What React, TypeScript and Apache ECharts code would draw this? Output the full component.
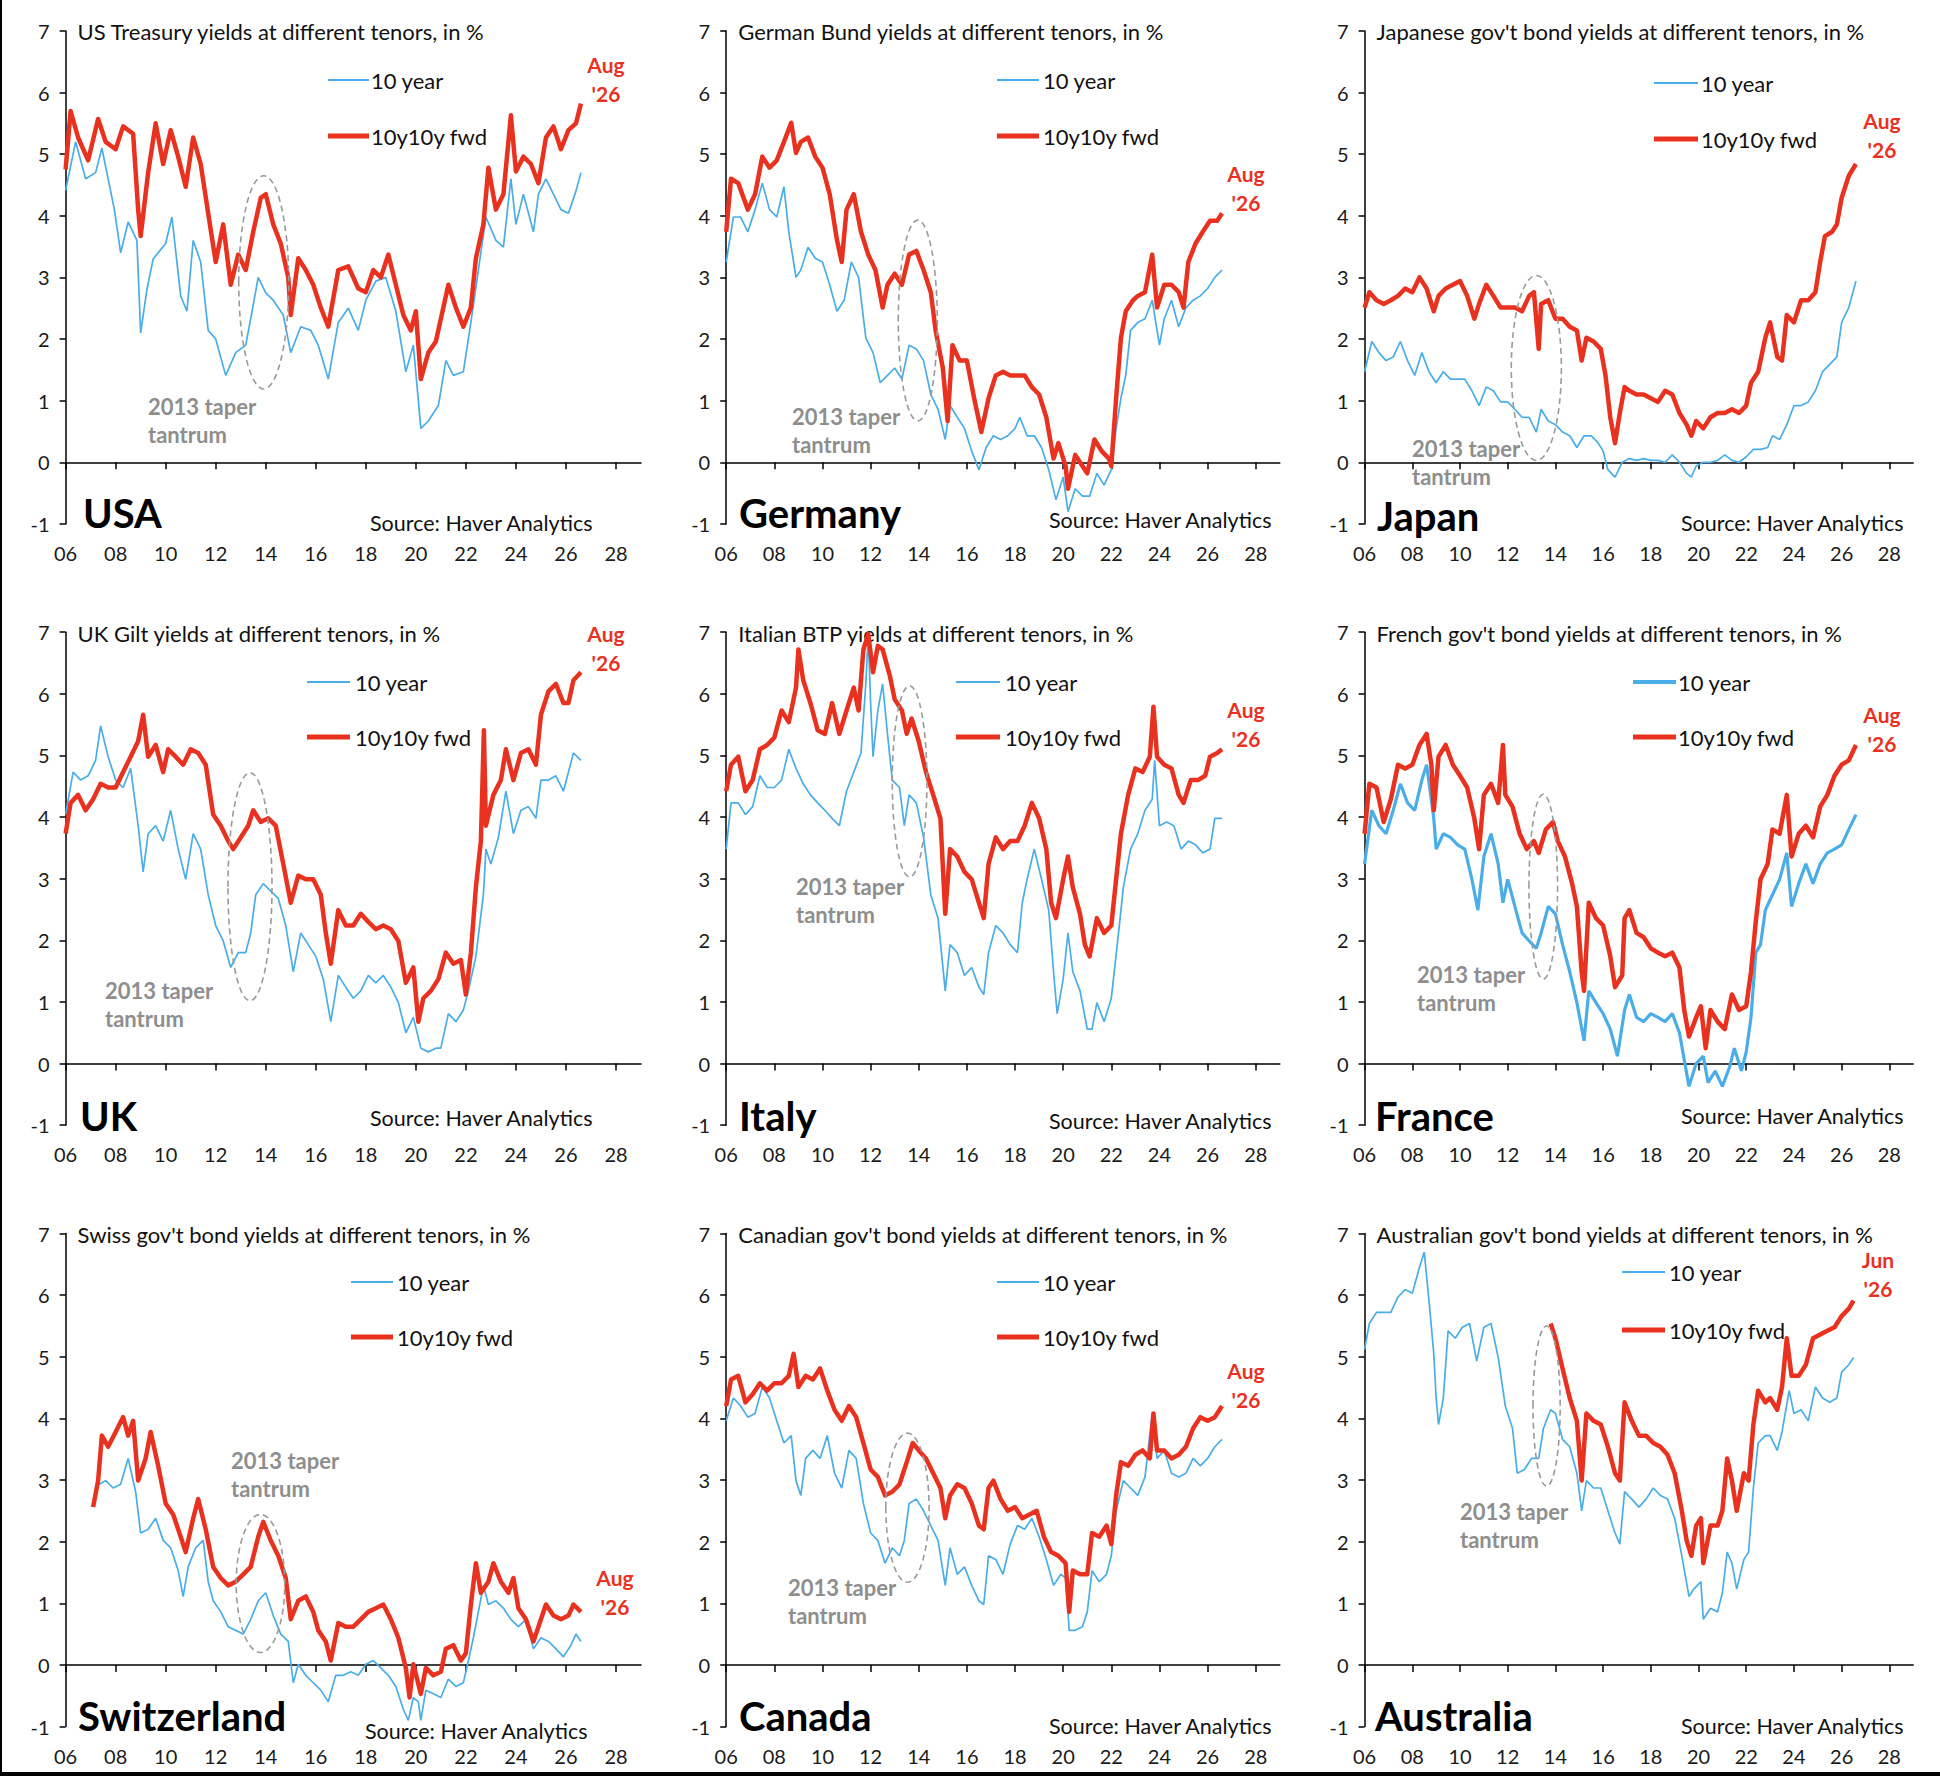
import React, { useEffect, useRef } from "react";
import * as echarts from "echarts";

// ---------------- DATA (year, % yield) ----------------
const X_TICKS = [2006, 2008, 2010, 2012, 2014, 2016, 2018, 2020, 2022, 2024, 2026, 2028];

const usa10y = [[2006.0,4.41],[2006.4,5.2],[2006.8,4.6],[2007.2,4.7],[2007.45,5.1],[2007.7,4.6],[2007.95,4.1],[2008.2,3.4],[2008.5,3.9],[2008.85,3.6],[2009.0,2.1],[2009.25,2.8],[2009.5,3.3],[2010.0,3.55],[2010.25,3.98],[2010.6,2.7],[2010.85,2.45],[2011.1,3.6],[2011.4,3.25],[2011.7,2.14],[2012.0,2.0],[2012.4,1.41],[2012.8,1.78],[2013.2,1.9],[2013.4,2.33],[2013.7,3.0],[2014.0,2.75],[2014.3,2.63],[2014.7,2.39],[2015.0,1.78],[2015.4,2.2],[2015.8,2.14],[2016.1,1.9],[2016.5,1.35],[2016.9,2.27],[2017.3,2.5],[2017.7,2.14],[2018.0,2.63],[2018.4,2.94],[2018.8,3.0],[2019.2,2.45],[2019.6,1.47],[2019.9,1.9],[2020.2,0.55],[2020.5,0.67],[2020.9,0.92],[2021.2,1.65],[2021.5,1.41],[2021.9,1.47],[2022.2,2.27],[2022.5,3.12],[2022.8,3.98],[2023.2,3.6],[2023.5,3.49],[2023.8,4.6],[2024.0,3.86],[2024.3,4.35],[2024.7,3.74],[2024.9,4.35],[2025.2,4.6],[2025.5,4.35],[2025.8,4.1],[2026.1,4.04],[2026.4,4.4],[2026.6,4.7]];
const usaFwd = [[2006.0,4.75],[2006.2,5.7],[2006.5,5.27],[2006.9,4.9],[2007.3,5.57],[2007.6,5.2],[2008.0,5.08],[2008.3,5.45],[2008.7,5.33],[2008.9,4.1],[2009.0,3.67],[2009.3,4.7],[2009.6,5.5],[2009.9,4.84],[2010.2,5.39],[2010.5,4.96],[2010.8,4.47],[2011.1,5.27],[2011.4,4.84],[2011.7,4.04],[2012.0,3.25],[2012.3,3.86],[2012.6,2.88],[2012.9,3.37],[2013.2,3.12],[2013.5,3.74],[2013.8,4.29],[2014.0,4.35],[2014.3,3.86],[2014.6,3.55],[2014.9,3.0],[2015.0,2.39],[2015.3,3.31],[2015.6,3.12],[2015.9,2.88],[2016.2,2.51],[2016.5,2.2],[2016.9,3.12],[2017.3,3.18],[2017.7,2.82],[2018.0,2.76],[2018.3,3.12],[2018.6,3.0],[2018.9,3.37],[2019.2,2.88],[2019.5,2.39],[2019.8,2.14],[2020.0,2.45],[2020.2,1.35],[2020.5,1.78],[2020.8,1.96],[2021.1,2.51],[2021.3,2.88],[2021.6,2.51],[2021.9,2.2],[2022.2,2.51],[2022.4,3.31],[2022.7,3.86],[2022.9,4.78],[2023.2,4.1],[2023.5,4.35],[2023.8,5.63],[2024.0,4.72],[2024.3,4.96],[2024.6,4.84],[2024.9,4.53],[2025.2,5.27],[2025.5,5.45],[2025.8,5.08],[2026.1,5.39],[2026.4,5.5],[2026.6,5.82]];

const deu10y = [[2006.0,3.25],[2006.3,3.98],[2006.6,3.98],[2006.9,3.74],[2007.2,4.1],[2007.5,4.53],[2007.8,4.1],[2008.1,3.98],[2008.4,4.47],[2008.6,3.74],[2008.9,3.0],[2009.1,3.12],[2009.4,3.49],[2009.7,3.31],[2010.0,3.25],[2010.3,2.88],[2010.6,2.45],[2010.9,2.63],[2011.2,3.25],[2011.5,3.0],[2011.8,2.02],[2012.1,1.78],[2012.4,1.29],[2012.7,1.41],[2013.0,1.53],[2013.3,1.35],[2013.6,1.9],[2013.9,1.84],[2014.2,1.65],[2014.5,1.1],[2014.8,0.86],[2015.1,0.37],[2015.3,0.92],[2015.6,0.73],[2015.9,0.55],[2016.2,0.18],[2016.5,-0.12],[2016.8,0.24],[2017.1,0.43],[2017.4,0.37],[2017.7,0.43],[2018.0,0.55],[2018.2,0.73],[2018.5,0.43],[2018.8,0.43],[2019.1,0.24],[2019.4,-0.12],[2019.7,-0.61],[2020.0,-0.24],[2020.2,-0.8],[2020.5,-0.43],[2020.8,-0.55],[2021.1,-0.55],[2021.4,-0.18],[2021.7,-0.37],[2022.0,-0.12],[2022.2,0.55],[2022.4,1.04],[2022.6,1.41],[2022.8,2.14],[2023.1,2.27],[2023.4,2.33],[2023.7,2.63],[2023.9,2.14],[2024.0,1.9],[2024.2,2.33],[2024.5,2.63],[2024.8,2.2],[2025.1,2.51],[2025.4,2.63],[2025.7,2.7],[2026.0,2.82],[2026.3,3.0],[2026.6,3.12]];
const deuFwd = [[2006.0,3.74],[2006.2,4.6],[2006.5,4.53],[2006.9,4.1],[2007.2,4.35],[2007.5,4.96],[2007.8,4.78],[2008.1,4.9],[2008.4,5.2],[2008.7,5.51],[2008.9,5.02],[2009.1,5.2],[2009.4,5.27],[2009.7,4.96],[2010.0,4.78],[2010.3,4.35],[2010.6,3.61],[2010.8,3.25],[2011.0,4.1],[2011.3,4.35],[2011.6,3.74],[2011.9,3.37],[2012.2,3.12],[2012.5,2.51],[2012.7,2.88],[2013.0,3.06],[2013.3,2.88],[2013.6,3.37],[2013.9,3.43],[2014.2,3.12],[2014.5,2.76],[2014.7,2.14],[2015.0,1.53],[2015.2,0.67],[2015.4,1.9],[2015.7,1.65],[2016.0,1.65],[2016.3,1.04],[2016.6,0.49],[2016.9,1.04],[2017.2,1.41],[2017.5,1.47],[2017.8,1.41],[2018.1,1.41],[2018.4,1.41],[2018.7,1.22],[2019.0,1.1],[2019.3,0.73],[2019.6,0.06],[2019.8,0.31],[2020.1,-0.06],[2020.2,-0.43],[2020.5,0.12],[2020.8,-0.06],[2021.0,-0.18],[2021.3,0.37],[2021.6,0.18],[2021.9,0.06],[2022.0,-0.06],[2022.2,1.04],[2022.4,2.02],[2022.6,2.45],[2022.9,2.63],[2023.1,2.7],[2023.4,2.76],[2023.7,3.37],[2023.9,2.51],[2024.2,2.88],[2024.5,2.88],[2024.8,2.76],[2025.0,2.51],[2025.2,3.25],[2025.5,3.55],[2025.8,3.74],[2026.1,3.92],[2026.4,3.92],[2026.6,4.04]];

const jpn10y = [[2006.0,1.47],[2006.3,1.96],[2006.6,1.78],[2006.9,1.65],[2007.2,1.71],[2007.5,1.96],[2007.8,1.65],[2008.1,1.41],[2008.4,1.78],[2008.7,1.47],[2009.0,1.29],[2009.3,1.47],[2009.6,1.35],[2009.9,1.35],[2010.2,1.35],[2010.5,1.16],[2010.8,0.92],[2011.1,1.22],[2011.4,1.16],[2011.7,0.98],[2012.0,0.98],[2012.3,0.86],[2012.6,0.73],[2012.9,0.73],[2013.2,0.49],[2013.4,0.86],[2013.7,0.67],[2014.0,0.61],[2014.3,0.49],[2014.6,0.43],[2014.9,0.24],[2015.2,0.43],[2015.5,0.43],[2015.8,0.31],[2016.0,0.18],[2016.2,-0.12],[2016.5,-0.24],[2016.8,0.0],[2017.1,0.06],[2017.4,0.03],[2017.7,0.06],[2018.0,0.03],[2018.3,0.03],[2018.6,0.0],[2018.9,0.12],[2019.2,0.0],[2019.5,-0.18],[2019.7,-0.24],[2019.9,-0.06],[2020.2,0.0],[2020.5,0.0],[2020.8,0.03],[2021.1,0.12],[2021.4,0.03],[2021.7,0.0],[2022.0,0.09],[2022.3,0.21],[2022.6,0.21],[2022.9,0.24],[2023.1,0.43],[2023.4,0.37],[2023.7,0.61],[2024.0,0.92],[2024.3,0.92],[2024.6,0.98],[2024.9,1.16],[2025.2,1.47],[2025.5,1.59],[2025.8,1.71],[2026.0,2.27],[2026.3,2.51],[2026.6,2.94]];
const jpnFwd = [[2006.0,2.51],[2006.2,2.76],[2006.5,2.63],[2006.8,2.57],[2007.1,2.63],[2007.4,2.7],[2007.7,2.82],[2008.0,2.76],[2008.3,3.0],[2008.6,2.82],[2008.9,2.45],[2009.1,2.7],[2009.4,2.82],[2009.7,2.88],[2010.0,2.94],[2010.3,2.7],[2010.6,2.33],[2010.8,2.57],[2011.1,2.88],[2011.4,2.7],[2011.7,2.51],[2012.0,2.51],[2012.3,2.51],[2012.6,2.45],[2012.9,2.7],[2013.1,2.76],[2013.3,1.84],[2013.4,2.57],[2013.7,2.63],[2014.0,2.33],[2014.3,2.33],[2014.6,2.2],[2014.9,2.14],[2015.1,1.65],[2015.3,2.02],[2015.6,1.96],[2015.9,1.84],[2016.1,1.41],[2016.3,0.73],[2016.5,0.31],[2016.7,0.8],[2016.9,1.22],[2017.1,1.16],[2017.4,1.1],[2017.7,1.1],[2018.0,1.04],[2018.3,0.98],[2018.6,1.16],[2018.9,1.1],[2019.2,0.8],[2019.5,0.61],[2019.7,0.43],[2019.9,0.67],[2020.2,0.55],[2020.5,0.73],[2020.8,0.8],[2021.1,0.8],[2021.4,0.86],[2021.7,0.8],[2022.0,0.92],[2022.2,1.29],[2022.5,1.47],[2022.8,2.02],[2023.0,2.27],[2023.3,1.71],[2023.5,1.65],[2023.7,2.39],[2024.0,2.27],[2024.3,2.63],[2024.6,2.63],[2024.9,2.76],[2025.1,3.25],[2025.3,3.67],[2025.6,3.74],[2025.8,3.86],[2026.0,4.29],[2026.3,4.65],[2026.6,4.84]];

const gbr10y = [[2006.0,4.04],[2006.3,4.73],[2006.6,4.6],[2006.9,4.67],[2007.2,4.92],[2007.4,5.48],[2007.7,4.98],[2008.0,4.6],[2008.3,4.48],[2008.6,4.79],[2008.9,3.86],[2009.1,3.11],[2009.3,3.73],[2009.6,3.86],[2009.9,3.61],[2010.2,4.11],[2010.5,3.48],[2010.8,2.99],[2011.1,3.73],[2011.4,3.48],[2011.7,2.74],[2012.0,2.24],[2012.3,1.99],[2012.6,1.56],[2012.9,1.8],[2013.2,1.8],[2013.4,2.12],[2013.6,2.74],[2013.9,2.92],[2014.2,2.8],[2014.5,2.68],[2014.8,2.24],[2015.1,1.49],[2015.4,2.12],[2015.7,1.93],[2016.0,1.74],[2016.3,1.37],[2016.6,0.68],[2016.9,1.43],[2017.2,1.24],[2017.5,1.06],[2017.8,1.18],[2018.1,1.43],[2018.4,1.31],[2018.7,1.43],[2019.0,1.24],[2019.3,0.99],[2019.6,0.5],[2019.9,0.75],[2020.2,0.25],[2020.5,0.19],[2020.8,0.25],[2021.0,0.25],[2021.3,0.81],[2021.6,0.68],[2021.9,0.87],[2022.1,1.18],[2022.4,1.74],[2022.7,2.74],[2022.8,3.48],[2023.0,3.24],[2023.3,3.67],[2023.6,4.42],[2023.9,3.73],[2024.2,4.11],[2024.5,4.17],[2024.8,3.98],[2025.0,4.6],[2025.3,4.6],[2025.6,4.67],[2025.9,4.42],[2026.1,4.73],[2026.3,5.04],[2026.6,4.92]];
const gbrFwd = [[2006.0,3.73],[2006.2,4.23],[2006.5,4.36],[2006.8,4.11],[2007.1,4.29],[2007.4,4.54],[2007.7,4.48],[2008.0,4.48],[2008.3,4.73],[2008.6,4.98],[2008.9,5.23],[2009.1,5.66],[2009.3,4.98],[2009.6,5.17],[2009.9,4.73],[2010.1,5.1],[2010.4,4.98],[2010.7,4.85],[2011.0,5.1],[2011.3,5.04],[2011.6,4.85],[2011.9,4.04],[2012.2,3.86],[2012.5,3.61],[2012.7,3.48],[2013.0,3.67],[2013.3,3.86],[2013.5,4.11],[2013.8,3.92],[2014.1,3.98],[2014.4,3.86],[2014.7,3.24],[2015.0,2.61],[2015.3,3.05],[2015.6,2.99],[2015.9,2.99],[2016.2,2.74],[2016.4,2.12],[2016.6,1.62],[2016.9,2.49],[2017.2,2.24],[2017.5,2.24],[2017.8,2.43],[2018.1,2.3],[2018.4,2.18],[2018.7,2.24],[2019.0,2.18],[2019.3,1.99],[2019.6,1.31],[2019.9,1.56],[2020.1,0.68],[2020.3,1.06],[2020.6,1.18],[2020.9,1.37],[2021.2,1.8],[2021.5,1.62],[2021.8,1.68],[2022.0,1.12],[2022.2,1.8],[2022.4,2.86],[2022.6,3.61],[2022.72,5.41],[2022.8,3.86],[2023.1,4.36],[2023.4,4.6],[2023.6,5.1],[2023.9,4.6],[2024.2,5.04],[2024.5,5.1],[2024.8,4.85],[2025.0,5.66],[2025.3,6.04],[2025.6,6.16],[2025.9,5.85],[2026.1,5.85],[2026.3,6.22],[2026.6,6.35]];

const ita10y = [[2006.0,3.48],[2006.2,4.23],[2006.5,4.23],[2006.8,4.04],[2007.1,4.17],[2007.4,4.67],[2007.7,4.48],[2008.0,4.48],[2008.3,4.6],[2008.6,5.1],[2008.9,4.79],[2009.2,4.54],[2009.5,4.36],[2009.8,4.23],[2010.1,4.11],[2010.4,3.98],[2010.7,3.86],[2011.0,4.42],[2011.3,4.73],[2011.6,5.04],[2011.8,6.16],[2011.9,6.97],[2012.0,5.85],[2012.1,4.98],[2012.3,5.73],[2012.5,6.16],[2012.7,5.35],[2012.9,4.6],[2013.2,4.48],[2013.4,3.86],[2013.6,4.36],[2013.9,4.23],[2014.2,3.67],[2014.5,2.74],[2014.8,2.36],[2015.1,1.18],[2015.3,1.93],[2015.6,1.8],[2015.9,1.43],[2016.2,1.56],[2016.5,1.24],[2016.7,1.12],[2016.9,1.8],[2017.2,2.24],[2017.5,2.12],[2017.8,1.93],[2018.1,1.8],[2018.3,2.61],[2018.5,2.99],[2018.8,3.48],[2019.1,2.99],[2019.4,2.49],[2019.6,1.49],[2019.75,0.81],[2020.0,1.37],[2020.2,2.12],[2020.4,1.49],[2020.7,1.18],[2021.0,0.56],[2021.2,0.56],[2021.4,0.99],[2021.7,0.68],[2022.0,1.06],[2022.3,2.12],[2022.5,2.86],[2022.8,3.48],[2023.1,3.73],[2023.4,4.11],[2023.7,4.29],[2023.8,4.92],[2024.0,3.86],[2024.3,3.92],[2024.6,3.86],[2024.9,3.48],[2025.2,3.61],[2025.5,3.55],[2025.8,3.42],[2026.1,3.48],[2026.3,3.98],[2026.6,3.98]];
const itaFwd = [[2006.0,4.42],[2006.2,4.85],[2006.5,4.98],[2006.8,4.42],[2007.1,4.6],[2007.4,5.1],[2007.7,5.17],[2008.0,5.29],[2008.3,5.73],[2008.6,5.54],[2008.9,6.1],[2009.0,6.72],[2009.2,6.22],[2009.5,5.85],[2009.8,5.41],[2010.1,5.35],[2010.4,5.85],[2010.7,5.35],[2011.0,5.73],[2011.3,6.1],[2011.5,5.73],[2011.7,6.72],[2011.9,6.97],[2012.1,6.35],[2012.3,6.78],[2012.5,6.72],[2012.8,6.29],[2013.0,5.91],[2013.3,5.73],[2013.5,5.35],[2013.7,5.6],[2014.0,5.23],[2014.3,4.73],[2014.6,4.36],[2014.9,3.98],[2015.1,2.43],[2015.3,3.48],[2015.6,3.36],[2015.9,3.11],[2016.2,2.99],[2016.5,2.61],[2016.7,2.36],[2016.9,3.24],[2017.2,3.67],[2017.5,3.48],[2017.8,3.61],[2018.1,3.61],[2018.4,3.86],[2018.7,4.23],[2019.0,3.98],[2019.3,3.48],[2019.5,2.61],[2019.7,2.36],[2020.0,2.99],[2020.2,3.36],[2020.4,2.86],[2020.7,2.43],[2020.9,1.93],[2021.1,1.74],[2021.4,2.36],[2021.7,2.12],[2022.0,2.24],[2022.2,2.99],[2022.4,3.73],[2022.7,4.36],[2023.0,4.79],[2023.3,4.73],[2023.6,4.98],[2023.75,5.79],[2023.9,4.98],[2024.2,4.85],[2024.5,4.79],[2024.8,4.36],[2025.0,4.23],[2025.3,4.6],[2025.6,4.6],[2025.9,4.67],[2026.1,4.98],[2026.4,5.04],[2026.6,5.1]];

const fra10y = [[2006.0,3.24],[2006.3,4.11],[2006.6,3.86],[2006.9,3.73],[2007.2,4.11],[2007.5,4.54],[2007.8,4.23],[2008.1,4.11],[2008.4,4.6],[2008.6,4.85],[2008.9,3.98],[2009.0,3.48],[2009.3,3.73],[2009.6,3.67],[2009.9,3.55],[2010.2,3.48],[2010.5,2.99],[2010.75,2.49],[2011.0,3.36],[2011.3,3.73],[2011.6,3.24],[2011.8,2.61],[2012.0,2.99],[2012.3,2.55],[2012.6,2.12],[2012.9,1.99],[2013.2,1.87],[2013.4,2.12],[2013.7,2.55],[2014.0,2.43],[2014.3,1.93],[2014.6,1.49],[2014.9,0.99],[2015.2,0.37],[2015.4,1.18],[2015.7,0.99],[2016.0,0.81],[2016.3,0.56],[2016.6,0.12],[2016.9,0.87],[2017.1,1.12],[2017.4,0.75],[2017.7,0.68],[2018.0,0.81],[2018.3,0.75],[2018.6,0.68],[2018.9,0.81],[2019.2,0.5],[2019.4,0.06],[2019.6,-0.37],[2019.9,0.0],[2020.2,0.12],[2020.4,-0.31],[2020.7,-0.12],[2021.0,-0.37],[2021.3,-0.06],[2021.5,0.25],[2021.8,-0.12],[2022.0,0.19],[2022.2,0.75],[2022.4,1.8],[2022.6,1.93],[2022.8,2.49],[2023.1,2.74],[2023.4,2.99],[2023.7,3.42],[2023.9,2.55],[2024.2,2.92],[2024.5,3.24],[2024.8,2.92],[2025.1,3.24],[2025.4,3.42],[2025.7,3.48],[2026.0,3.55],[2026.3,3.8],[2026.6,4.04]];
const fraFwd = [[2006.0,3.73],[2006.2,4.54],[2006.5,4.48],[2006.8,3.92],[2007.1,4.29],[2007.4,4.85],[2007.7,4.79],[2008.0,4.85],[2008.3,5.17],[2008.6,5.35],[2008.8,4.85],[2008.9,4.11],[2009.1,4.98],[2009.4,5.17],[2009.7,4.85],[2010.0,4.67],[2010.3,4.48],[2010.6,3.98],[2010.8,3.48],[2011.0,4.36],[2011.3,4.54],[2011.6,4.23],[2011.8,5.17],[2011.9,4.36],[2012.2,4.17],[2012.5,3.73],[2012.8,3.48],[2013.1,3.61],[2013.3,3.42],[2013.6,3.8],[2013.9,3.92],[2014.1,3.61],[2014.4,3.36],[2014.7,2.92],[2014.9,2.55],[2015.1,1.49],[2015.2,1.18],[2015.4,2.61],[2015.7,2.36],[2016.0,2.24],[2016.3,1.74],[2016.5,1.24],[2016.8,1.43],[2016.9,2.36],[2017.1,2.49],[2017.4,2.12],[2017.7,2.05],[2018.0,1.87],[2018.3,1.8],[2018.6,1.74],[2018.9,1.8],[2019.2,1.56],[2019.4,0.87],[2019.6,0.44],[2019.9,0.75],[2020.1,0.93],[2020.3,0.25],[2020.5,0.87],[2020.8,0.68],[2021.1,0.56],[2021.4,1.12],[2021.7,0.87],[2022.0,0.93],[2022.2,1.49],[2022.4,2.3],[2022.6,2.99],[2022.9,3.24],[2023.1,3.8],[2023.4,3.73],[2023.7,4.36],[2023.9,3.36],[2024.2,3.73],[2024.5,3.86],[2024.8,3.67],[2025.1,4.17],[2025.4,4.36],[2025.7,4.67],[2026.0,4.85],[2026.3,4.92],[2026.6,5.17]];

const che10y = [[2007.35,2.93],[2007.6,2.99],[2007.9,2.87],[2008.2,2.93],[2008.5,3.35],[2008.8,2.81],[2009.0,2.14],[2009.3,2.2],[2009.6,2.38],[2009.9,2.02],[2010.2,1.9],[2010.5,1.53],[2010.7,1.11],[2010.9,1.59],[2011.2,1.9],[2011.5,2.02],[2011.7,1.35],[2011.9,1.04],[2012.2,0.86],[2012.5,0.62],[2012.8,0.56],[2013.1,0.5],[2013.4,0.74],[2013.7,1.04],[2014.0,1.17],[2014.3,0.8],[2014.6,0.5],[2014.9,0.38],[2015.1,-0.29],[2015.3,0.01],[2015.6,-0.17],[2015.9,-0.29],[2016.2,-0.41],[2016.5,-0.6],[2016.8,-0.17],[2017.1,-0.17],[2017.4,-0.11],[2017.7,-0.17],[2018.0,0.01],[2018.3,0.07],[2018.6,-0.05],[2018.9,-0.17],[2019.2,-0.35],[2019.5,-0.72],[2019.7,-0.9],[2019.9,-0.53],[2020.1,-0.6],[2020.2,-0.9],[2020.4,-0.41],[2020.7,-0.47],[2021.0,-0.53],[2021.3,-0.23],[2021.6,-0.35],[2021.9,-0.29],[2022.1,0.07],[2022.3,0.44],[2022.5,0.86],[2022.7,1.29],[2022.9,0.98],[2023.2,1.04],[2023.5,0.92],[2023.8,0.74],[2024.1,0.62],[2024.4,0.74],[2024.7,0.26],[2025.0,0.44],[2025.3,0.38],[2025.6,0.26],[2025.9,0.13],[2026.2,0.32],[2026.4,0.5],[2026.6,0.38]];
const cheFwd = [[2007.1,2.56],[2007.3,2.99],[2007.45,3.72],[2007.7,3.54],[2008.0,3.78],[2008.3,4.02],[2008.5,3.72],[2008.7,3.96],[2008.9,2.99],[2009.2,3.35],[2009.4,3.78],[2009.7,3.23],[2010.0,2.62],[2010.3,2.44],[2010.6,2.08],[2010.8,1.83],[2011.1,2.38],[2011.3,2.69],[2011.6,2.2],[2011.9,1.59],[2012.2,1.41],[2012.5,1.29],[2012.8,1.35],[2013.1,1.47],[2013.4,1.59],[2013.7,2.08],[2013.9,2.32],[2014.2,2.02],[2014.5,1.77],[2014.8,1.41],[2015.0,0.74],[2015.3,1.04],[2015.6,1.11],[2015.9,0.86],[2016.1,0.56],[2016.4,0.38],[2016.6,0.07],[2016.9,0.68],[2017.2,0.62],[2017.5,0.62],[2017.8,0.74],[2018.1,0.86],[2018.4,0.92],[2018.7,0.98],[2019.0,0.74],[2019.3,0.44],[2019.6,-0.05],[2019.75,-0.53],[2019.9,0.01],[2020.2,-0.47],[2020.4,-0.05],[2020.7,-0.17],[2021.0,-0.11],[2021.2,0.26],[2021.5,0.32],[2021.8,0.07],[2022.0,0.19],[2022.2,0.98],[2022.4,1.65],[2022.6,1.17],[2022.9,1.35],[2023.1,1.65],[2023.4,1.35],[2023.7,1.17],[2023.9,1.41],[2024.1,0.92],[2024.4,0.74],[2024.7,0.38],[2024.9,0.62],[2025.2,0.98],[2025.5,0.8],[2025.8,0.74],[2026.1,0.8],[2026.3,0.98],[2026.6,0.86]];

const can10y = [[2006.0,3.96],[2006.3,4.33],[2006.6,4.2],[2006.9,4.02],[2007.2,4.08],[2007.5,4.51],[2007.8,4.33],[2008.1,3.96],[2008.4,3.6],[2008.7,3.72],[2008.9,2.99],[2009.1,2.75],[2009.3,3.35],[2009.6,3.48],[2009.9,3.35],[2010.2,3.72],[2010.5,3.11],[2010.8,2.87],[2011.1,3.48],[2011.4,3.35],[2011.7,2.62],[2012.0,2.14],[2012.3,2.02],[2012.6,1.65],[2012.9,1.9],[2013.2,1.77],[2013.4,2.02],[2013.6,2.62],[2013.9,2.69],[2014.2,2.5],[2014.5,2.26],[2014.8,2.02],[2015.1,1.29],[2015.3,1.9],[2015.6,1.47],[2015.9,1.59],[2016.2,1.29],[2016.5,1.04],[2016.7,0.98],[2016.9,1.77],[2017.2,1.71],[2017.5,1.47],[2017.8,1.96],[2018.1,2.26],[2018.4,2.2],[2018.7,2.38],[2019.0,2.08],[2019.3,1.71],[2019.6,1.29],[2019.9,1.47],[2020.1,1.41],[2020.25,0.56],[2020.5,0.56],[2020.8,0.62],[2021.0,0.86],[2021.2,1.53],[2021.5,1.35],[2021.8,1.47],[2022.0,1.77],[2022.2,2.5],[2022.5,2.99],[2022.8,2.87],[2023.1,2.75],[2023.4,3.05],[2023.7,4.08],[2023.9,3.35],[2024.2,3.48],[2024.5,3.11],[2024.8,3.05],[2025.1,3.11],[2025.4,3.35],[2025.7,3.23],[2026.0,3.35],[2026.3,3.54],[2026.6,3.66]];
const canFwd = [[2006.0,4.2],[2006.2,4.63],[2006.5,4.69],[2006.8,4.26],[2007.1,4.39],[2007.4,4.57],[2007.7,4.45],[2008.0,4.57],[2008.3,4.57],[2008.6,4.69],[2008.8,5.05],[2009.0,4.51],[2009.3,4.69],[2009.6,4.63],[2009.9,4.81],[2010.2,4.45],[2010.5,4.14],[2010.8,3.96],[2011.1,4.2],[2011.4,4.02],[2011.7,3.6],[2012.0,3.17],[2012.3,3.05],[2012.6,2.75],[2012.9,2.81],[2013.2,2.93],[2013.5,3.29],[2013.75,3.6],[2014.0,3.48],[2014.3,3.35],[2014.6,3.11],[2014.9,2.87],[2015.1,2.38],[2015.3,2.75],[2015.6,2.93],[2015.9,2.87],[2016.2,2.62],[2016.5,2.26],[2016.7,2.2],[2016.9,2.87],[2017.1,2.99],[2017.4,2.69],[2017.7,2.5],[2018.0,2.56],[2018.3,2.38],[2018.6,2.44],[2018.9,2.5],[2019.2,2.08],[2019.5,1.83],[2019.8,1.77],[2020.1,1.65],[2020.25,0.86],[2020.4,1.53],[2020.7,1.47],[2021.0,1.47],[2021.2,2.14],[2021.5,2.08],[2021.8,2.26],[2022.0,1.96],[2022.2,2.75],[2022.4,3.29],[2022.7,3.23],[2023.0,3.41],[2023.3,3.48],[2023.6,3.35],[2023.75,4.08],[2023.9,3.48],[2024.2,3.48],[2024.5,3.35],[2024.8,3.41],[2025.1,3.54],[2025.4,3.84],[2025.7,4.02],[2026.0,3.96],[2026.3,4.02],[2026.6,4.2]];

const aus10y = [[2006.0,5.12],[2006.2,5.54],[2006.5,5.72],[2006.8,5.72],[2007.1,5.72],[2007.4,5.97],[2007.7,6.09],[2008.0,6.03],[2008.3,6.45],[2008.5,6.7],[2008.7,5.91],[2008.9,5.05],[2009.0,4.33],[2009.1,3.9],[2009.3,4.33],[2009.5,5.42],[2009.8,5.3],[2010.1,5.48],[2010.4,5.54],[2010.7,4.93],[2011.0,5.48],[2011.3,5.54],[2011.6,4.99],[2011.9,4.2],[2012.2,3.84],[2012.4,3.11],[2012.7,3.17],[2013.0,3.35],[2013.3,3.35],[2013.5,3.84],[2013.8,4.14],[2014.0,4.08],[2014.3,3.66],[2014.6,3.54],[2014.9,3.11],[2015.1,2.5],[2015.3,2.99],[2015.6,2.87],[2015.9,2.87],[2016.2,2.5],[2016.5,2.14],[2016.7,1.96],[2016.9,2.81],[2017.2,2.69],[2017.5,2.56],[2017.8,2.69],[2018.1,2.87],[2018.4,2.75],[2018.7,2.69],[2019.0,2.38],[2019.3,1.77],[2019.6,1.11],[2019.8,1.23],[2020.1,1.35],[2020.2,0.74],[2020.5,0.92],[2020.8,0.86],[2021.0,1.17],[2021.2,1.83],[2021.4,1.65],[2021.6,1.23],[2021.9,1.71],[2022.1,1.83],[2022.3,2.87],[2022.5,3.6],[2022.8,3.72],[2023.0,3.72],[2023.3,3.48],[2023.5,3.78],[2023.8,4.45],[2024.0,4.08],[2024.3,4.14],[2024.6,3.96],[2024.9,4.51],[2025.2,4.33],[2025.5,4.26],[2025.8,4.33],[2026.0,4.75],[2026.3,4.87],[2026.5,4.99]];
const ausFwd = [[2013.8,5.54],[2014.0,5.3],[2014.3,4.81],[2014.6,4.33],[2014.9,3.96],[2015.1,2.99],[2015.3,4.08],[2015.6,3.96],[2015.9,3.9],[2016.2,3.54],[2016.5,3.11],[2016.7,2.99],[2016.9,4.26],[2017.2,3.96],[2017.5,3.72],[2017.8,3.72],[2018.1,3.6],[2018.4,3.54],[2018.7,3.41],[2019.0,3.11],[2019.3,2.5],[2019.5,2.02],[2019.7,1.77],[2019.9,2.26],[2020.1,2.38],[2020.2,1.65],[2020.5,2.26],[2020.8,2.26],[2021.0,2.5],[2021.2,3.35],[2021.4,2.99],[2021.6,2.5],[2021.9,3.11],[2022.1,2.99],[2022.3,3.9],[2022.5,4.45],[2022.8,4.26],[2023.0,4.33],[2023.3,4.14],[2023.5,4.51],[2023.7,5.3],[2023.9,4.69],[2024.2,4.69],[2024.5,4.87],[2024.8,5.3],[2025.1,5.36],[2025.4,5.42],[2025.7,5.48],[2026.0,5.66],[2026.3,5.78],[2026.5,5.91]];

// ---------------- PANEL DEFINITIONS ----------------
const PANELS = [
  { title: "US Treasury yields at different tenors, in %", country: "USA", blue: usa10y, red: usaFwd, end: "Aug" },
  { title: "German Bund yields at different tenors, in %", country: "Germany", blue: deu10y, red: deuFwd, end: "Aug" },
  { title: "Japanese gov't bond yields at different tenors, in %", country: "Japan", blue: jpn10y, red: jpnFwd, end: "Aug" },
  { title: "UK Gilt yields at different tenors, in %", country: "UK", blue: gbr10y, red: gbrFwd, end: "Aug" },
  { title: "Italian BTP yields at different tenors, in %", country: "Italy", blue: ita10y, red: itaFwd, end: "Aug" },
  { title: "French gov't bond yields at different tenors, in %", country: "France", blue: fra10y, red: fraFwd, end: "Aug", thickBlue: true },
  { title: "Swiss gov't bond yields at different tenors, in %", country: "Switzerland", blue: che10y, red: cheFwd, end: "Aug" },
  { title: "Canadian gov't bond yields at different tenors, in %", country: "Canada", blue: can10y, red: canFwd, end: "Aug" },
  { title: "Australian gov't bond yields at different tenors, in %", country: "Australia", blue: aus10y, red: ausFwd, end: "Jun" },
];

// ---------------- LAYOUT (pixels) ----------------
const COL_LEFT = [65.6, 726.2, 1364.6];
const COL_WIDTH = [575.4, 553.6, 548.6];
const ROW_TOP = [30.9, 632.2, 1233.5];
const GRID_H = 493;

// per panel: legend line x0,x1 / y of two rows, text x; end label centre; taper text; country; source; ellipse (data coords: cx, cy, rx, ry)
const ANNOT = [
  { lg: [328, 369, 80, 136, 371], end: [606, 64], taper: [148, 406], ctry: [83, 513], src: [370, 523], ell: [2013.92, 2.92, 1.0, 1.73] },
  { lg: [997, 1039, 80, 136, 1043], end: [1246, 173], taper: [792, 416], ctry: [739, 513], src: [1049, 520], ell: [2013.96, 2.3, 0.81, 1.63] },
  { lg: [1654, 1698, 83, 139, 1701], end: [1882, 120], taper: [1412, 448], ctry: [1377, 516], src: [1681, 523], ell: [2013.2, 1.53, 1.05, 1.5] },
  { lg: [307, 350, 682, 737, 355], end: [606, 633], taper: [105, 990], ctry: [80, 1116], src: [370, 1118], ell: [2013.37, 2.87, 0.88, 1.85] },
  { lg: [956, 1000, 682, 737, 1005], end: [1246, 709], taper: [796, 886], ctry: [739, 1116], src: [1049, 1121], ell: [2013.62, 4.58, 0.72, 1.55] },
  { lg: [1633, 1676, 682, 737, 1678], end: [1882, 714], taper: [1417, 974], ctry: [1375, 1116], src: [1681, 1116], ell: [2013.49, 2.87, 0.6, 1.5] },
  { lg: [351, 393, 1282, 1337, 397], end: [615, 1577], taper: [231, 1460], ctry: [78, 1716], src: [365, 1731], ell: [2013.79, 1.32, 0.97, 1.12] },
  { lg: [997, 1039, 1282, 1337, 1043], end: [1246, 1370], taper: [788, 1587], ctry: [739, 1716], src: [1049, 1726], ell: [2013.53, 2.55, 0.9, 1.21] },
  { lg: [1622, 1665, 1272, 1330, 1669], end: [1878, 1259], taper: [1460, 1511], ctry: [1375, 1716], src: [1681, 1726], ell: [2013.63, 4.2, 0.57, 1.3] },
];

const BLUE = "#4AADE8";
const RED = "#E8321F";
const GREY = "#8E8E8E";
const FONT = "Lato, 'Open Sans', sans-serif";

function buildOption() {
  const grid: any[] = [];
  const xAxis: any[] = [];
  const yAxis: any[] = [];
  const series: any[] = [];
  PANELS.forEach((p, i) => {
    const row = Math.floor(i / 3);
    const col = i % 3;
    grid.push({ left: COL_LEFT[col], top: ROW_TOP[row], width: COL_WIDTH[col], height: GRID_H, containLabel: false });
    xAxis.push({
      type: "value", gridIndex: i, min: 2006, max: 2029, interval: 2, position: "bottom",
      axisLine: { show: false, onZero: false }, axisTick: { show: false }, splitLine: { show: false },
      axisLabel: {
        customValues: X_TICKS, margin: 19, fontFamily: FONT, fontSize: 20, color: "#1a1a1a",
        formatter: (v: number) => (v > 2028 ? "" : String(Math.round(v)).slice(2)),
      },
    });
    xAxis.push({
      type: "value", gridIndex: i, min: 2006, max: 2029, interval: 2, position: "bottom",
      axisLine: { show: true, onZero: true, lineStyle: { color: "#000", width: 1.5 } },
      axisTick: { show: true, customValues: X_TICKS, length: 7, lineStyle: { color: "#000", width: 1.5 } },
      axisLabel: { show: false }, splitLine: { show: false },
    });
    yAxis.push({
      type: "value", gridIndex: i, min: -1, max: 7, interval: 1,
      axisLine: { show: true, onZero: false, lineStyle: { color: "#000", width: 1.5 } },
      axisTick: { show: true, length: 6, lineStyle: { color: "#000", width: 1.5 } },
      axisLabel: { margin: 16, fontFamily: FONT, fontSize: 20, color: "#1a1a1a" },
      splitLine: { show: false },
    });
    series.push({
      type: "line", name: "10 year", xAxisIndex: 2 * i, yAxisIndex: i, data: p.blue, showSymbol: false,
      lineStyle: { color: BLUE, width: p.thickBlue ? 3.2 : 1.7 }, itemStyle: { color: BLUE }, z: 3, silent: true,
    });
    series.push({
      type: "line", name: "10y10y fwd", xAxisIndex: 2 * i, yAxisIndex: i, data: p.red, showSymbol: false,
      lineStyle: { color: RED, width: 4.5, join: "round" }, itemStyle: { color: RED }, z: 4, silent: true,
    });
  });
  return { animation: false, backgroundColor: "#fff", grid, xAxis, yAxis, series };
}

function txt(id: string, x: number, y: number, text: string, font: string, fill: string, align = "left") {
  return {
    type: "text", id, x, y, silent: true, z: 1,
    style: { text, font, fill, align, verticalAlign: "middle", textAlign: align, textVerticalAlign: "middle" },
  };
}

export default function App() {
  const ref = useRef<HTMLDivElement>(null);
  useEffect(() => {
    document.body.style.margin = "0";
    const chart = echarts.init(ref.current as HTMLDivElement, null, { renderer: "svg" });
    chart.setOption(buildOption());
    const g: any[] = [];
    g.push({ type: "rect", id: "bl", shape: { x: 0, y: 0, width: 2, height: 1776 }, style: { fill: "#000" }, silent: true });
    g.push({ type: "rect", id: "bb", shape: { x: 0, y: 1772, width: 1940, height: 4 }, style: { fill: "#000" }, silent: true });
    PANELS.forEach((p, i) => {
      const a = ANNOT[i];
      const row = Math.floor(i / 3);
      const col = i % 3;
      const tx = COL_LEFT[col] + 12;
      const ty = ROW_TOP[row] + 1;
      g.push(txt("t" + i, tx, ty, p.title, `22px ${FONT}`, "#111"));
      g.push({ type: "line", id: "lb" + i, shape: { x1: a.lg[0], y1: a.lg[2], x2: a.lg[1], y2: a.lg[2] }, style: { stroke: BLUE, lineWidth: p.thickBlue ? 4 : 2.2 }, silent: true });
      g.push({ type: "line", id: "lr" + i, shape: { x1: a.lg[0], y1: a.lg[3], x2: a.lg[1], y2: a.lg[3] }, style: { stroke: RED, lineWidth: 5 }, silent: true });
      g.push(txt("lbt" + i, a.lg[4], a.lg[2], "10 year", `22px ${FONT}`, "#111"));
      g.push(txt("lrt" + i, a.lg[4], a.lg[3], "10y10y fwd", `22px ${FONT}`, "#111"));
      g.push(txt("e1" + i, a.end[0], a.end[1], p.end, `bold 21px ${FONT}`, RED, "center"));
      g.push(txt("e2" + i, a.end[0], a.end[1] + 29, "'26", `bold 21px ${FONT}`, RED, "center"));
      g.push(txt("ta" + i, a.taper[0], a.taper[1], "2013 taper", `bold 22px ${FONT}`, GREY));
      g.push(txt("tb" + i, a.taper[0], a.taper[1] + 28, "tantrum", `bold 22px ${FONT}`, GREY));
      g.push(txt("c" + i, a.ctry[0], a.ctry[1], p.country, `bold 40px ${FONT}`, "#000"));
      g.push(txt("s" + i, a.src[0], a.src[1], "Source: Haver Analytics", `21.5px ${FONT}`, "#111"));
      const c = chart.convertToPixel({ seriesIndex: 2 * i }, [a.ell[0], a.ell[1]]) as number[];
      const e = chart.convertToPixel({ seriesIndex: 2 * i }, [a.ell[0] + a.ell[2], a.ell[1] + a.ell[3]]) as number[];
      if (c && e) {
        g.push({
          type: "ellipse", id: "el" + i, silent: true, z: 10,
          shape: { cx: c[0], cy: c[1], rx: Math.abs(e[0] - c[0]), ry: Math.abs(e[1] - c[1]) },
          style: { fill: "none", stroke: "#9A9A9A", lineWidth: 1.6, lineDash: [6, 4] },
        });
      }
    });
    chart.setOption({ graphic: g });
    return () => chart.dispose();
  }, []);
  return <div ref={ref} style={{ width: 1940, height: 1776 }} />;
}
